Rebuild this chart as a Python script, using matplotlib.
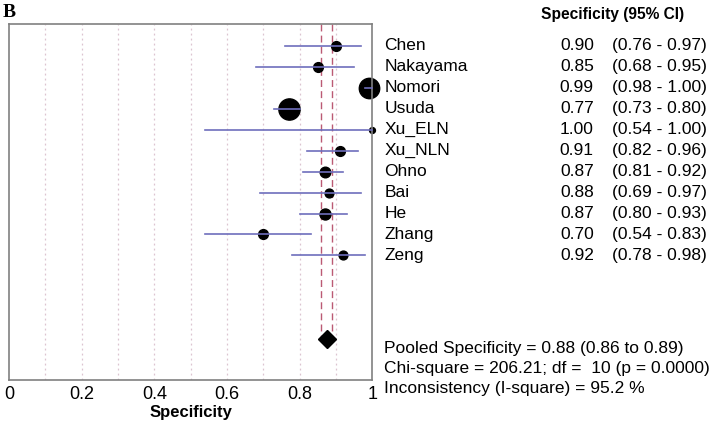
import matplotlib as mpl
from matplotlib import pyplot as plt
from matplotlib.transforms import blended_transform_factory

mpl.rcParams['font.family'] = ['Liberation Sans', 'DejaVu Sans']

studies = ["Chen", "Nakayama", "Nomori", "Usuda", "Xu_ELN", "Xu_NLN",
           "Ohno", "Bai", "He", "Zhang", "Zeng"]
spec = [0.90, 0.85, 0.99, 0.77, 1.00, 0.91, 0.87, 0.88, 0.87, 0.70, 0.92]
ci_low = [0.76, 0.68, 0.98, 0.73, 0.54, 0.82, 0.81, 0.69, 0.80, 0.54, 0.78]
ci_high = [0.97, 0.95, 1.00, 0.80, 1.00, 0.96, 0.92, 0.97, 0.93, 0.83, 0.98]
# relative study weights (drive marker size)
weights = [5.5, 5.5, 24, 26, 2.0, 5.5, 6.5, 4.5, 7.0, 5.5, 4.5]

pooled = 0.876
pooled_lo = 0.86
pooled_hi = 0.89
footer = ["Pooled Specificity = 0.88 (0.86 to 0.89)",
          "Chi-square = 206.21; df =  10 (p = 0.0000)",
          "Inconsistency (I-square) = 95.2 %"]

fig = plt.figure(figsize=(7.18, 4.28), dpi=100)
ax = fig.add_axes([0.0125, 0.112, 0.506, 0.832])

n = len(studies)
pooled_row = 14
ax.set_xlim(0, 1)
ax.set_ylim(15.95, -1.05)

for g in [0.1, 0.2, 0.3, 0.4, 0.5, 0.6, 0.7, 0.8, 0.9]:
    ax.axvline(g, color='#dcc4d0', linestyle=(0, (1.5, 2.5)), lw=0.9, zorder=0)

for v in (pooled_lo, pooled_hi):
    ax.plot([v, v], [-1.05, pooled_row], color='#bb5a74', linestyle=(0, (5, 3)),
            lw=1.0, zorder=1)

for i in range(n):
    ms = 3.0 * weights[i] ** 0.5
    ax.plot(spec[i], i, 'o', color='black', ms=ms, zorder=2, clip_on=False)
    ax.plot([ci_low[i], ci_high[i]], [i, i], color='#6e6ebc', lw=1.2, zorder=3,
            clip_on=False)

ax.plot(pooled, pooled_row, 'D', color='black', ms=9, zorder=4)

for s in ax.spines.values():
    s.set_color('#808080')
    s.set_linewidth(1.2)

ax.set_yticks([])
ax.set_xticks([0, 0.2, 0.4, 0.6, 0.8, 1])
ax.set_xticklabels(['0', '0.2', '0.4', '0.6', '0.8', '1'])
ax.tick_params(axis='x', length=0, labelsize=13, pad=4)
ax.set_xlabel('Specificity', fontsize=12, fontweight='bold', labelpad=2)

tr = blended_transform_factory(fig.transFigure, ax.transData)
for i in range(n):
    ax.text(0.535, i, studies[i], transform=tr, fontsize=12.5, va='center')
    ax.text(0.827, i, "%.2f" % spec[i], transform=tr, fontsize=12.5,
            va='center', ha='right')
    ax.text(0.852, i, "(%.2f - %.2f)" % (ci_low[i], ci_high[i]), transform=tr,
            fontsize=12.5, va='center')

fig.text(0.753, 0.967, "Specificity (95% CI)", fontsize=11.2,
         fontweight='bold', va='center')
for k, line in enumerate(footer):
    fig.text(0.535, 1 - (348 + 20 * k) / 428, line, fontsize=12.5, va='center')

fig.text(0.004, 0.970, "B", fontsize=14, fontweight='bold',
         family='Liberation Serif', va='center')

fig.savefig('out.png', dpi=100)
